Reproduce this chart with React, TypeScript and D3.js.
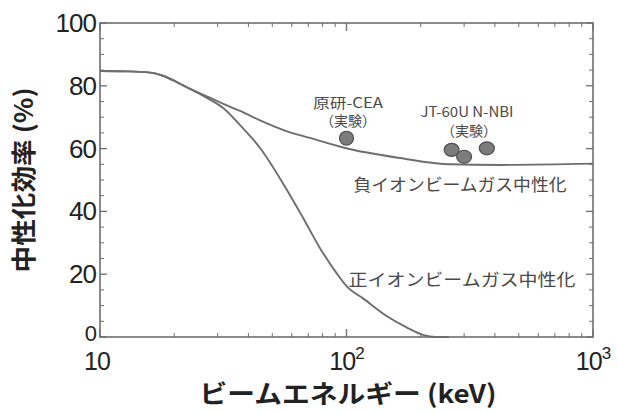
import React from "react";
import * as d3 from "d3";

const W = 618;
const H = 412;

// Positive-ion beam gas neutralization (energy keV, efficiency %)
const posEnergy = [10, 13, 16, 18, 20.5, 23.2, 27.9, 31.5, 37.0, 44.6, 55.2, 66.6, 78.1, 91.4, 100, 116.7, 146, 176, 204, 229, 260];
const posEff = [84.7, 84.6, 84.2, 83.2, 81.2, 79, 75.6, 73, 67.5, 60.2, 49, 38, 28.3, 20.2, 16.2, 12.3, 6.6, 3.0, 0.7, 0, 0];

// Negative-ion beam gas neutralization
const negEnergy = [10, 13, 16, 18, 20.5, 23.2, 27.9, 31.5, 37.0, 44.6, 57.4, 71, 98.6, 165, 263, 420, 1000];
const negEff = [84.7, 84.6, 84.2, 83.2, 81.2, 79, 76.2, 74.3, 72.0, 69, 65.5, 63.4, 60.2, 57, 55, 54.8, 55.2];

// Experimental points
const expEnergy = [100, 267, 300, 371];
const expEff = [63.3, 59.6, 57.4, 60.1];

const yTicks = [0, 20, 40, 60, 80, 100];
const xTickExp = [1, 2, 3];

const FONT = "'Liberation Sans', Arial, 'Noto Sans CJK JP', sans-serif";
const CJK = "'Noto Sans CJK JP', 'Liberation Sans', sans-serif";

export default function App() {
  const x0 = 100, x1 = 593, y0 = 337, y1 = 23;
  const x = d3.scaleLog().domain([10, 1000]).range([x0, x1]);
  const y = d3.scaleLinear().domain([0, 100]).range([y0, y1]);

  const line = d3
    .line<[number, number]>()
    .x((d) => x(d[0]))
    .y((d) => y(d[1]))
    .curve(d3.curveMonotoneX);

  const posPath = line(posEnergy.map((e, i) => [e, posEff[i]]) as [number, number][]) || "";
  const negPath = line(negEnergy.map((e, i) => [e, negEff[i]]) as [number, number][]) || "";

  const axisColor = "#6f6f6f";
  const curveColor = "#6e6e6e";

  const xMinor: number[] = [];
  for (let dec = 10; dec < 1000; dec *= 10) {
    for (let m = 2; m <= 9; m++) xMinor.push(dec * m);
  }
  const yMinor: number[] = d3.range(0, 101, 5).filter((v) => v % 20 !== 0);

  return (
    <svg
      width={W}
      height={H}
      style={{ position: "absolute", left: 0, top: 0, background: "#fff" }}
    >
      <rect x={0} y={0} width={W} height={H} fill="#fff" />
      <rect x={x0} y={y1} width={x1 - x0} height={y0 - y1} fill="none" stroke={axisColor} strokeWidth={1.6} />

      {yTicks.map((t) => (
        <g key={"yt" + t}>
          <line x1={x0} x2={x0 + 7} y1={y(t)} y2={y(t)} stroke={axisColor} strokeWidth={1.3} />
          <line x1={x1} x2={x1 - 7} y1={y(t)} y2={y(t)} stroke={axisColor} strokeWidth={1.3} />
          <text
            x={96}
            y={y(t) + (t === 0 ? 4 : 9)}
            textAnchor="end"
            fontFamily={FONT}
            fontSize={t === 0 ? 22 : 26}
            letterSpacing={-1}
            fill="#222"
          >
            {t}
          </text>
        </g>
      ))}
      {yMinor.map((t) => (
        <g key={"ym" + t}>
          <line x1={x0} x2={x0 + 4} y1={y(t)} y2={y(t)} stroke={axisColor} strokeWidth={1} />
          <line x1={x1} x2={x1 - 4} y1={y(t)} y2={y(t)} stroke={axisColor} strokeWidth={1} />
        </g>
      ))}

      {xTickExp.map((p) => {
        const v = Math.pow(10, p);
        return (
          <g key={"xt" + p}>
            <line x1={x(v)} x2={x(v)} y1={y0} y2={y0 - 8} stroke={axisColor} strokeWidth={1.3} />
            <line x1={x(v)} x2={x(v)} y1={y1} y2={y1 + 8} stroke={axisColor} strokeWidth={1.3} />
            <text
              x={x(v) - (p === 1 ? 3 : 0)}
              y={370}
              textAnchor="middle"
              fontFamily={FONT}
              fontSize={25}
              letterSpacing={-1}
              fill="#222"
            >
              10
              {p > 1 ? (
                <tspan fontSize={17} dy={-11}>
                  {p}
                </tspan>
              ) : null}
            </text>
          </g>
        );
      })}
      {xMinor.map((v) => (
        <g key={"xm" + v}>
          <line x1={x(v)} x2={x(v)} y1={y0} y2={y0 - 4} stroke={axisColor} strokeWidth={1} />
          <line x1={x(v)} x2={x(v)} y1={y1} y2={y1 + 4} stroke={axisColor} strokeWidth={1} />
        </g>
      ))}

      <path d={posPath} fill="none" stroke={curveColor} strokeWidth={1.9} />
      <path d={negPath} fill="none" stroke={curveColor} strokeWidth={1.9} />

      {expEnergy.map((e, i) => (
        <ellipse
          key={"p" + i}
          cx={x(e)}
          cy={y(expEff[i])}
          rx={i === 0 ? 7 : 7.5}
          ry={i === 0 ? 7 : 6.5}
          fill="#7c7c7c"
          stroke="#4f4f4f"
          strokeWidth={1.2}
        />
      ))}

      <g fontFamily={CJK} fill="#4a4a4a">
        <text x={348} y={108} textAnchor="middle" fontSize={14} textLength={70} lengthAdjust="spacingAndGlyphs">
          原研-CEA
        </text>
        <text x={348} y={126} textAnchor="middle" fontSize={14}>
          （実験）
        </text>
        <text x={467} y={117} textAnchor="middle" fontSize={14} textLength={93} lengthAdjust="spacingAndGlyphs">
          JT-60U N-NBI
        </text>
        <text x={469} y={136} textAnchor="middle" fontSize={14}>
          （実験）
        </text>
        <text x={460} y={191} textAnchor="middle" fontSize={17} textLength={213} lengthAdjust="spacingAndGlyphs">
          負イオンビームガス中性化
        </text>
        <text x={462} y={286} textAnchor="middle" fontSize={17} textLength={227} lengthAdjust="spacingAndGlyphs">
          正イオンビームガス中性化
        </text>
      </g>

      <text
        x={348}
        y={403}
        textAnchor="middle"
        fontFamily={CJK}
        fontWeight="bold"
        fontSize={25}
        fill="#222"
        textLength={297}
        lengthAdjust="spacingAndGlyphs"
      >
        ビームエネルギー (keV)
      </text>
      <text
        transform={`translate(33, 180) rotate(-90)`}
        textAnchor="middle"
        fontFamily={CJK}
        fontWeight="bold"
        fontSize={25}
        fill="#222"
        textLength={185}
        lengthAdjust="spacingAndGlyphs"
      >
        中性化効率 (%)
      </text>
    </svg>
  );
}
